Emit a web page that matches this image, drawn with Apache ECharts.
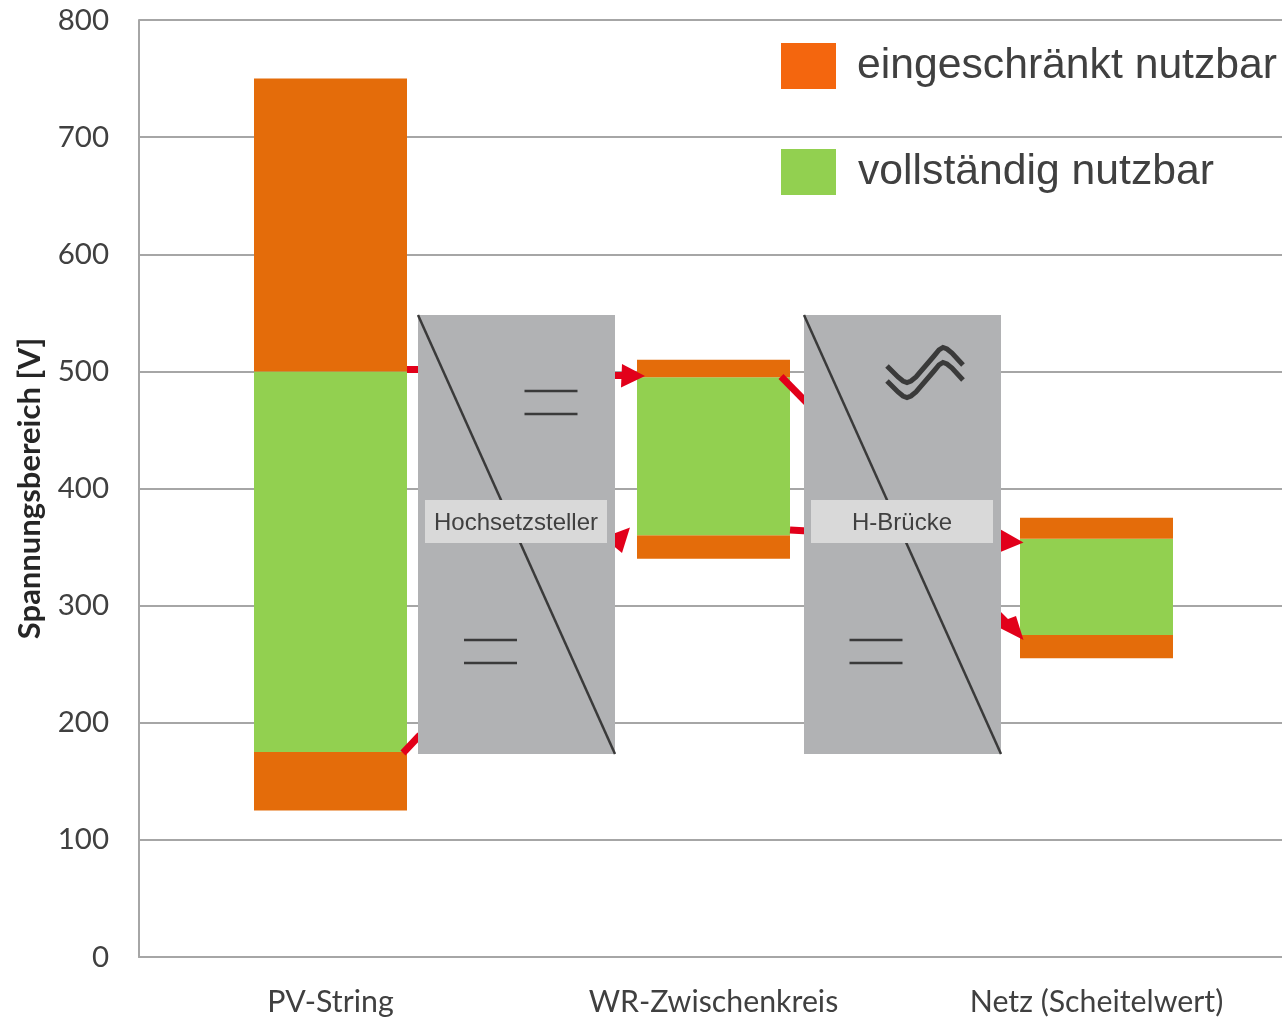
<!DOCTYPE html>
<html>
<head>
<meta charset="utf-8">
<style>
  html, body { margin: 0; padding: 0; background: #fff; overflow: hidden; }
  #chart { width: 1288px; height: 1022px; }
</style>
<script src="https://cdn.jsdelivr.net/npm/echarts@6/dist/echarts.min.js"></script>
</head>
<body>
<div id="chart"></div>
<script>
const categories = ['PV-String', 'WR-Zwischenkreis', 'Netz (Scheitelwert)']
const yTicks = { min: 0, max: 800, interval: 100 }
// Spannungen in V, gestapelt von unten nach oben
const base = [125, 340, 255]
const lowerLimited = [50, 20, 20]
const fullRange = [325, 135, 82]
const upperLimited = [250, 15, 18]

const limitedName = 'eingeschränkt nutzbar'
const fullName = 'vollständig nutzbar'

const colors = {
  limited: '#E46C0A',
  limitedLegend: '#F4660E',
  full: '#92D050',
  grid: '#A6A6A6',
  block: '#B1B2B4',
  labelBox: '#D9D9D9',
  dark: '#3A3A3A',
  red: '#E2001A'
}

const axisFont = 'Lato'
const blockFont = '24px "Liberation Sans"'
const legendText = { fontFamily: 'Liberation Sans', fontSize: 42.7, color: '#404040' }

const line = (x1, y1, x2, y2, stroke, lineWidth) => ({
  type: 'line',
  shape: { x1, y1, x2, y2 },
  style: { stroke, lineWidth }
})

const arrowHead = (points) => ({
  type: 'polygon',
  shape: { points },
  style: { fill: colors.red }
})

// Schaltbild: Pfeile liegen unter den grauen Wandlerblöcken
const arrows = [
  line(407, 369.5, 420, 369.5, colors.red, 7),
  line(403, 753, 420, 735, colors.red, 7),
  line(612, 375.5, 625, 375.5, colors.red, 7),
  arrowHead([[622, 364], [645, 376], [621, 387.5]]),
  arrowHead([[610, 535], [630, 527.5], [622, 553], [610, 543]]),
  line(781, 376.5, 808, 404, colors.red, 7),
  line(790, 530, 808, 531, colors.red, 7),
  arrowHead([[998, 528], [1023.5, 542.5], [998, 553]]),
  arrowHead([[998, 609], [1008, 619], [1016, 616], [1023.5, 640], [998, 627]])
]

const converter = (x, label) => {
  const parts = [
    { type: 'rect', shape: { x, y: 315, width: 197, height: 439 }, style: { fill: colors.block } },
    line(x, 315, x + 197, 754, colors.dark, 2.5),
    { type: 'rect', shape: { x: x + 7, y: 500, width: 182, height: 43 }, style: { fill: colors.labelBox } },
    {
      type: 'text',
      style: {
        x: x + 98,
        y: 523,
        text: label,
        font: blockFont,
        fill: '#404040',
        align: 'center',
        verticalAlign: 'middle'
      }
    }
  ]
  return parts
}

const equalSign = (x, y) => [
  line(x, y, x + 53, y, colors.dark, 2.5),
  line(x, y + 23, x + 53, y + 23, colors.dark, 2.5)
]

const wave = (dy) => ({
  type: 'polyline',
  shape: {
    points: [
      [887, 366], [898, 377], [903, 381], [907, 382.5], [911, 381], [916, 377],
      [934, 356], [939, 350], [943, 347.5], [947, 349], [952, 353], [963, 365]
    ].map(([x, y]) => [x, y + dy])
  },
  style: { stroke: colors.dark, lineWidth: 5, fill: null }
})

const sketch = [
  ...arrows,
  ...converter(418, 'Hochsetzsteller'),
  ...converter(804, 'H-Brücke'),
  ...equalSign(524.5, 391),
  ...equalSign(464, 640),
  ...equalSign(849.5, 640),
  wave(0),
  wave(15)
]

const stackBar = (name, data, color) => ({
  name,
  type: 'bar',
  stack: 'range',
  barWidth: 153,
  data,
  itemStyle: { color },
  silent: true
})

const chart = echarts.init(document.getElementById('chart'), null, { renderer: 'canvas' })

chart.setOption({
  animation: false,
  backgroundColor: '#fff',
  grid: { left: 139, top: 20, width: 1149, height: 937, containLabel: false },
  legend: {
    left: 781,
    top: 43,
    padding: 0,
    orient: 'vertical',
    itemWidth: 55,
    itemHeight: 46,
    itemGap: 60,
    selectedMode: false,
    icon: 'rect',
    textStyle: legendText,
    data: [
      {
        name: limitedName,
        itemStyle: { color: colors.limitedLegend },
        textStyle: { ...legendText, padding: [0, 0, 16, 16] }
      },
      {
        name: fullName,
        itemStyle: { color: colors.full },
        textStyle: { ...legendText, padding: [0, 0, 6, 17] }
      }
    ]
  },
  xAxis: {
    type: 'category',
    data: categories,
    axisLine: { lineStyle: { color: colors.grid, width: 2 } },
    axisTick: { show: false },
    axisLabel: { fontFamily: axisFont, fontSize: 30.3, color: '#404040', margin: 30, interval: 0 }
  },
  yAxis: {
    type: 'value',
    min: yTicks.min,
    max: yTicks.max,
    interval: yTicks.interval,
    name: 'Spannungsbereich [V]',
    nameLocation: 'middle',
    nameGap: 94,
    nameTextStyle: { fontFamily: axisFont, fontSize: 31, fontWeight: 'bold', color: '#262626' },
    axisLine: { show: true, lineStyle: { color: colors.grid, width: 2 } },
    axisTick: { show: false },
    axisLabel: { fontFamily: axisFont, fontSize: 29.5, color: '#404040', margin: 30 },
    splitLine: { show: true, lineStyle: { color: colors.grid, width: 2 } }
  },
  series: [
    stackBar('Basis', base, 'transparent'),
    stackBar(limitedName, lowerLimited, colors.limited),
    stackBar(fullName, fullRange, colors.full),
    stackBar(limitedName, upperLimited, colors.limited)
  ],
  graphic: { elements: sketch.map((el) => ({ ...el, z: 10 })) }
})

window.addEventListener('resize', () => chart.resize())
</script>
</body>
</html>
